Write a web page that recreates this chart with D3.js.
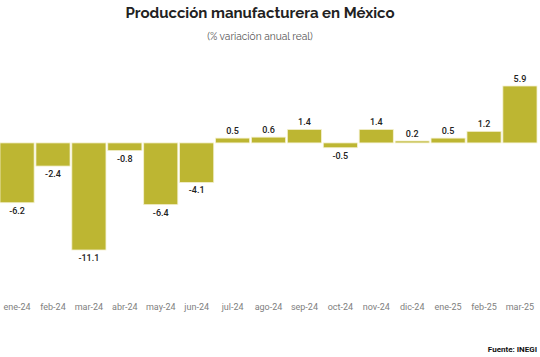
<!DOCTYPE html>
<html><head><meta charset="utf-8">
<script src="https://cdn.jsdelivr.net/npm/d3@7"></script>
<style>body{margin:0;background:#fff}svg{display:block}</style>
</head><body>
<svg id="c" width="540" height="357"></svg>
<script>
const categories = ["ene-24","feb-24","mar-24","abr-24","may-24","jun-24","jul-24","ago-24","sep-24","oct-24","nov-24","dic-24","ene-25","feb-25","mar-25"];
const values = [-6.2,-2.4,-11.1,-0.8,-6.4,-4.1,0.5,0.6,1.4,-0.5,1.4,0.2,0.5,1.2,5.9];
const title = "Producción manufacturera en México";
const subtitle = "(% variación anual real)";
const source = "Fuente: INEGI";

const svg = d3.select("#c");
const x = d3.scaleBand().domain(categories).range([0, 537]).paddingInner(0.05).paddingOuter(0);
const y = d3.scaleLinear().domain([-11.1, 5.9]).range([250, 86]);

svg.append("text").attr("x", 260).attr("y", 18).attr("text-anchor","middle")
  .attr("font-family","Raleway, 'Open Sans', sans-serif").attr("font-weight",700)
  .attr("font-size",15).attr("fill","#222").text(title);
svg.append("text").attr("x", 260).attr("y", 40).attr("text-anchor","middle")
  .attr("font-family","Raleway, 'Open Sans', sans-serif")
  .attr("font-size",10.2).attr("fill","#555").text(subtitle);

const g = svg.append("g");
g.selectAll("rect").data(values).join("rect")
  .attr("x",(d,i)=>x(categories[i]))
  .attr("width",x.bandwidth())
  .attr("y",d=>y(Math.max(0,d)))
  .attr("height",d=>Math.abs(y(d)-y(0)))
  .attr("fill","#bdb632").attr("stroke","#f4f1d0").attr("stroke-width",0.8);

g.selectAll("text.v").data(values).join("text").attr("class","v")
  .attr("x",(d,i)=>x(categories[i])+x.bandwidth()/2)
  .attr("y",d=> d>=0 ? y(d)-4 : y(d)+11)
  .attr("text-anchor","middle")
  .attr("font-family","Roboto, sans-serif").attr("font-weight",500)
  .attr("font-size",9).attr("fill","#222")
  .text(d=>d.toFixed(1));

const axis = d3.axisBottom(x).tickSize(0).tickPadding(0);
const ax = svg.append("g").attr("transform","translate(0,304)").call(axis);
ax.select(".domain").remove();
ax.selectAll("text").attr("font-family","Roboto, sans-serif").attr("font-size",9).attr("fill","#808080");

svg.append("text").attr("x",537).attr("y",352).attr("text-anchor","end")
  .attr("font-family","Roboto, sans-serif").attr("font-weight",700)
  .attr("font-size",8).attr("fill","#111").text(source);
</script>
</body></html>
